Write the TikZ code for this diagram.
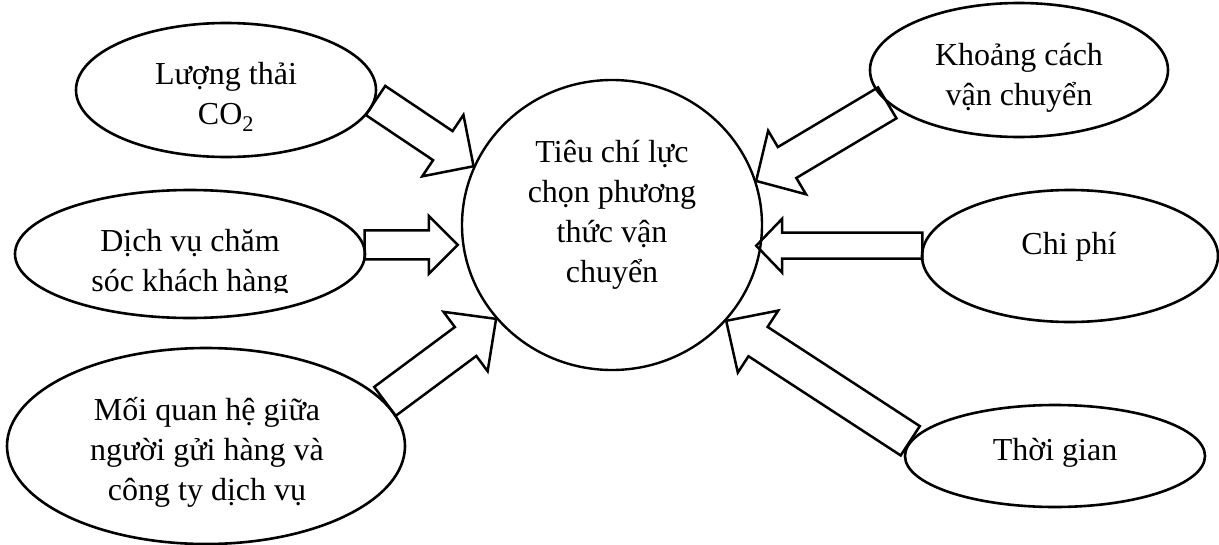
\documentclass[tikz,border=0pt]{standalone}
\usepackage{fontspec}
\setmainfont{Liberation Serif}
\usetikzlibrary{shapes.geometric,calc}

% hollow block arrow: tail, tip, half shaft, half head, head length
\newcommand{\blockarrow}[5]{%
	\draw[blockarrow]
		($(#1)!#3!90:(#2)$) --
		($(#2)!#5!(#1)!#3!90:(#2)$) --
		($(#2)!#5!(#1)!#4!90:(#2)$) --
		(#2) --
		($(#2)!#5!(#1)!#4!-90:(#2)$) --
		($(#2)!#5!(#1)!#3!-90:(#2)$) --
		($(#1)!#3!-90:(#2)$) -- cycle;
}

\begin{document}
\begin{tikzpicture}[x=1pt,y=-1pt,
			factor/.style={
				draw,
				ellipse,
				line width=2.6pt,
				inner sep=0pt
			},
			factortext/.style={
				align=center,
				inner sep=0pt,
				font=\fontsize{32}{40}\selectfont
			},
			blockarrow/.style={
				draw,
				line width=2.5pt,
				line join=miter
			}]
			
			\useasboundingbox (0,0) rectangle (1219,544);
			
			% centre
			\node[factor,line width=2.4pt,minimum width=300pt,minimum height=290pt](crit) at (612,225){};
			\node[factortext](crittxt) at (612,215){Tiêu chí lực\\chọn phương\\thức vận\\chuyển};
			
			% left side
			\node[factor,minimum width=300pt,minimum height=134pt](co2) at (226,90){};
			\node[factortext](co2txt) at (226,97){Lượng thải\\CO\textsubscript{2}};
			
			\node[factor,minimum width=350pt,minimum height=128pt](dv) at (190,254){};
			\begin{scope}
				\clip (0,180) rectangle (400,292);
				\node[factortext](dvtxt) at (190,264){Dịch vụ chăm\\sóc khách hàng};
			\end{scope}
			
			\node[factor,minimum width=398pt,minimum height=196pt](mq) at (206,446){};
			\node[factortext](mqtxt) at (207,452){Mối quan hệ giữa\\người gửi hàng và\\công ty dịch vụ};
			
			% right side
			\node[factor,minimum width=298pt,minimum height=134pt](kc) at (1019,70){};
			\node[factortext](kctxt) at (1019,78){Khoảng cách\\vận chuyển};
			
			\node[factor,minimum width=296pt,minimum height=132pt](cp) at (1070,256){};
			\node[factortext](cptxt) at (1069,247){Chi phí};
			
			\node[factor,minimum width=300pt,minimum height=102pt](tg) at (1055,456){};
			\node[factortext](tgtxt) at (1055,453){Thời gian};
			
			% tips of the two level arrows
			\path (crit.west |- dv.3.6) ++(-3,0) coordinate (dvin);
			\path (crit.east |- cp.176.9) ++(-7,0) coordinate (cpin);
			
			% arrows into the centre
			\blockarrow{co2.-4.6}{crit.157.7}{17.5pt}{37pt}{37pt}
			
			\blockarrow{dv.3.6}{dvin}{14.5pt}{29pt}{29pt}
			
			\blockarrow{mq.14.9}{crit.219.4}{18pt}{37pt}{38pt}
			
			\blockarrow{kc.194.4}{crit.17.2}{18pt}{37pt}{36pt}
			
			\blockarrow{cp.176.9}{cpin}{13pt}{27pt}{26pt}
			
			\blockarrow{tg.174.4}{crit.-40.1}{17.5pt}{37pt}{38pt}
			
		\end{tikzpicture}
\end{document}
